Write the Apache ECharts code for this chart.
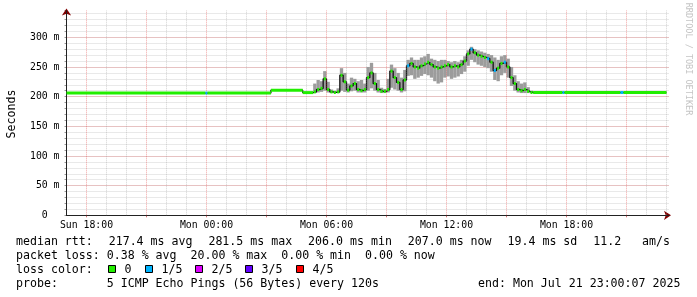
<!DOCTYPE html>
<html><head><meta charset="utf-8">
<script src="https://cdn.jsdelivr.net/npm/echarts@6/dist/echarts.min.js"></script>
<style>html,body{margin:0;padding:0;background:#fff}#c{width:697px;height:297px}</style>
</head><body><div id="c"></div><script>
// Time is measured in hours relative to Sun 18:00 (window: Sun 17:00 .. Mon 23:00)
const xLabelHours = [0, 6, 12, 18, 24];
const xTickLabels = ['Sun 18:00', 'Mon 00:00', 'Mon 06:00', 'Mon 12:00', 'Mon 18:00'];
const xMajorHours = [0, 3, 6, 9, 12, 15, 18, 21, 24, 27];
const xMinorHours = [1, 2, 4, 5, 7, 8, 10, 11, 13, 14, 16, 17, 19, 20, 22, 23, 25, 26, 28, 29];
const yTickValues = [0, 50, 100, 150, 200, 250, 300];
const yTickLabels = ['0  ', '50 m', '100 m', '150 m', '200 m', '250 m', '300 m'];

// flat stretches of the median rtt (ms)
const flatStart  = [-1, 5.95, 6.05, 9.22, 10.81, 22.333, 23.8, 23.9, 26.7, 26.85];
const flatEnd    = [5.95, 6.05, 9.22, 10.81, 11.333, 23.8, 23.9, 26.7, 26.85, 29];
const flatMedian = [206, 206, 206, 210.8, 206.8, 207, 207, 207, 207, 207];
const flatLoss   = [0, 1, 0, 0, 0, 0, 1, 0, 1, 0];

// busy stretch: Mon 05:20 onwards, 10-minute samples (ms)
const varStartHour = 11 + 20 / 60;
const varStepHours = 10 / 60;
const varMedian = [208,212,214,230,212,208,207,208,236,225,211,218,222,212,210,212,232,240,222,212,
  209,209,212,243,232,224,212,228,252,256,250,248,252,255,258,254,250,248,250,252,
  254,250,252,250,254,260,272,280,274,270,268,266,264,258,244,248,256,258,250,232,
  222,212,210,212,209,207];
const varMin = [206,207,208,210,207,206,206,206,210,208,207,209,210,207,207,207,210,214,210,207,
  206,206,207,215,212,210,207,209,235,236,230,232,235,238,236,232,226,222,224,232,
  234,230,232,234,238,242,252,262,258,254,252,250,248,242,228,226,236,240,232,218,
  210,207,206,206,206,206];
const varMax = [222,228,226,243,225,212,210,214,248,240,222,232,230,226,228,222,250,257,240,228,
  215,213,230,254,248,240,232,245,262,266,262,262,266,268,272,264,262,260,262,262,
  260,258,260,258,262,268,278,284,280,278,276,274,272,270,266,262,268,270,264,250,
  236,226,222,224,216,210];
const varLoss = [0,0,0,0,0,0,0,0,0,0,0,0,0,0,0,0,0,0,0,0,
  0,0,0,0,0,0,0,0,1,0,0,0,0,0,0,0,0,0,0,0,
  0,0,0,0,0,0,0,1,0,0,0,0,1,0,1,0,0,1,0,0,
  0,0,0,0,0,0];

const lossColors = ['#22ee00', '#00b4ff', '#dd00ff', '#6200ff', '#ff0000'];
const lossLabels = ['0', '1/5', '2/5', '3/5', '4/5'];
const legendMedian = ['median rtt:', '217.4 ms avg', '281.5 ms max', '206.0 ms min', '207.0 ms now', '19.4 ms sd', '11.2   am/s'];
const legendLoss = 'packet loss: 0.38 % avg  20.00 % max  0.00 % min  0.00 % now';
const legendProbe = 'probe:       5 ICMP Echo Pings (56 Bytes) every 120s';
const legendEnd = 'end: Mon Jul 21 23:00:07 2025';

// build items [t0, t1, min, max, median, loss, isFlat]
const items = [];
for (let i = 0; i < flatStart.length; i++) {
  items.push([flatStart[i], flatEnd[i], flatMedian[i], flatMedian[i], flatMedian[i], flatLoss[i], 1]);
}
for (let i = 0; i < varMedian.length; i++) {
  const t0 = varStartHour + i * varStepHours;
  items.push([t0, t0 + varStepHours, varMin[i], varMax[i], varMedian[i], varLoss[i], 0]);
}
items.sort((a, b) => a[0] - b[0]);
const lineData = items.map(d => [d[0], d[4]]);
lineData.push([items[items.length - 1][1], items[items.length - 1][4]]);

const X_MIN = -1, X_MAX = 29.125, Y_MAX = 345;
const MONO = 'DejaVu Sans Mono';
const FONT = '11.6px "' + MONO + '"';
const minorGrid = { color: 'rgba(150,150,150,0.42)', type: [1, 1], width: 1 };
const majorGrid = { color: 'rgba(224,60,60,0.45)', type: [1, 1], width: 1 };

const chart = echarts.init(document.getElementById('c'), null, { renderer: 'canvas' });

const medX = [16, 108.7, 208.4, 308.1, 407.8, 507.5, 593.2];
const boxX = [108.5, 145.5, 195.5, 245.5, 296.5];
const txt = (t, x, y, extra) => Object.assign({ type: 'text', x: x, y: y,
  style: { text: t, font: FONT, fill: '#000', verticalAlign: 'middle', textVerticalAlign: 'middle' } }, extra || {});
const graphics = [];
legendMedian.forEach((t, i) => graphics.push(txt(t, medX[i], 241.5)));
graphics.push(txt(legendLoss, 16, 255.5));
graphics.push(txt('loss color:', 16, 269.5));
lossLabels.forEach((t, i) => {
  graphics.push({ type: 'rect', shape: { x: boxX[i], y: 265.5, width: 7, height: 7 }, style: { fill: lossColors[i], stroke: '#000', lineWidth: 1 } });
  graphics.push(txt(t, boxX[i] + 16, 269.5));
});
graphics.push(txt(legendProbe, 16, 283.5));
graphics.push(txt(legendEnd, 478, 283.5));
graphics.push({ type: 'text', x: 12, y: 114, rotation: Math.PI / 2, style: { text: 'Seconds', font: FONT, fill: '#000', align: 'center', textAlign: 'center', verticalAlign: 'middle', textVerticalAlign: 'middle' } });
graphics.push({ type: 'text', x: 688, y: 59, rotation: -Math.PI / 2, style: { text: 'RRDTOOL / TOBI OETIKER', font: '8.5px "' + MONO + '"', fill: '#c4c4c4', align: 'center', textAlign: 'center', verticalAlign: 'middle', textVerticalAlign: 'middle' } });

const baseX = { type: 'value', position: 'bottom', min: X_MIN, max: X_MAX,
  axisLine: { show: false, onZero: false }, axisTick: { show: false }, axisLabel: { show: false }, splitLine: { show: false } };

chart.setOption({
  animation: false,
  backgroundColor: '#ffffff',
  grid: { left: 66.5, right: 28, top: 10.6, bottom: 81.7, containLabel: false },
  xAxis: [
    Object.assign({}, baseX),
    Object.assign({}, baseX, { axisTick: { show: true, customValues: xMajorHours, length: 2, lineStyle: { color: 'rgba(200,60,60,0.7)' } } }),
    Object.assign({}, baseX, { z: 1,
      axisLine: { show: true, onZero: false, symbol: ['none', 'arrow'], symbolSize: [7, 7], symbolOffset: [0, 2], lineStyle: { color: '#800000', width: 1 } } }),
    Object.assign({}, baseX, { z: 2,
      axisLine: { show: true, onZero: false, lineStyle: { color: '#222', width: 1 } },
      axisLabel: { show: true, customValues: xLabelHours, margin: 5, fontFamily: MONO, fontSize: 9.8, color: '#000',
        formatter: v => { const k = xLabelHours.indexOf(v); return k >= 0 ? xTickLabels[k] : ''; } } })
  ],
  yAxis: [
    { type: 'value', position: 'left', min: 0, max: Y_MAX, interval: 10,
      axisLine: { show: false, onZero: false },
      axisTick: { show: true, length: 2, lineStyle: { color: '#999' } }, axisLabel: { show: false },
      splitLine: { show: true, showMinLine: false, showMaxLine: false, lineStyle: minorGrid } },
    { type: 'value', position: 'left', min: 0, max: Y_MAX, interval: 50,
      axisLine: { show: false, onZero: false },
      axisTick: { show: false },
      axisLabel: { show: false },
      splitLine: { show: true, showMinLine: false, showMaxLine: false, lineStyle: majorGrid } },
    { type: 'value', position: 'left', min: 0, max: Y_MAX, z: 1,
      axisLine: { show: true, onZero: false, symbol: ['none', 'arrow'], symbolSize: [7, 7], symbolOffset: [0, 2], lineStyle: { color: '#800000', width: 1 } },
      axisTick: { show: false }, axisLabel: { show: false }, splitLine: { show: false } },
    { type: 'value', position: 'left', min: 0, max: Y_MAX, z: 2,
      axisLine: { show: true, onZero: false, lineStyle: { color: '#222', width: 1 } },
      axisTick: { show: false },
      axisLabel: { show: true, customValues: yTickValues, margin: 7, fontFamily: MONO, fontSize: 9.8, color: '#000',
        formatter: v => { const k = yTickValues.indexOf(v); return k >= 0 ? yTickLabels[k] : ''; } },
      splitLine: { show: false } }
  ],
  graphic: graphics,
  series: [
    { type: 'line', name: 'vgrid', xAxisIndex: 0, yAxisIndex: 0, z: 1, data: [[X_MIN, 0]],
      showSymbol: false, lineStyle: { width: 0, opacity: 0 }, silent: true,
      markLine: { silent: true, symbol: ['none', 'none'], label: { show: false }, animation: false,
        emphasis: { disabled: true },
        data: xMinorHours.map(h => ({ xAxis: h, lineStyle: minorGrid }))
          .concat(xMajorHours.map(h => ({ xAxis: h, lineStyle: majorGrid }))) } },
    { type: 'custom', name: 'smoke', xAxisIndex: 0, yAxisIndex: 0, z: 3, data: items,
      renderItem: (params, api) => {
        const lo = api.value(2), hi = api.value(3);
        if (!(hi > lo)) return null;
        const a = api.coord([api.value(0), lo]);
        const b = api.coord([api.value(1), hi]);
        return { type: 'rect', shape: { x: a[0], y: b[1], width: b[0] - a[0], height: a[1] - b[1] },
          style: { fill: '#9c9c9c' } };
      } },
    { type: 'line', name: 'median edge', xAxisIndex: 0, yAxisIndex: 0, z: 4, data: lineData, step: 'end',
      showSymbol: false, lineStyle: { color: '#111', width: 1.3 } },
    { type: 'custom', name: 'median', xAxisIndex: 0, yAxisIndex: 0, z: 5, data: items,
      renderItem: (params, api) => {
        const a = api.coord([api.value(0), api.value(4)]);
        const b = api.coord([api.value(1), api.value(4)]);
        const w = b[0] - a[0];
        const ww = api.value(6) ? w : Math.min(w, 2);
        return { type: 'rect', shape: { x: a[0] + (w - ww) / 2, y: a[1] - 1.5, width: ww, height: 3 },
          style: { fill: lossColors[api.value(5)] } };
      } }
  ]
});
</script></body></html>
